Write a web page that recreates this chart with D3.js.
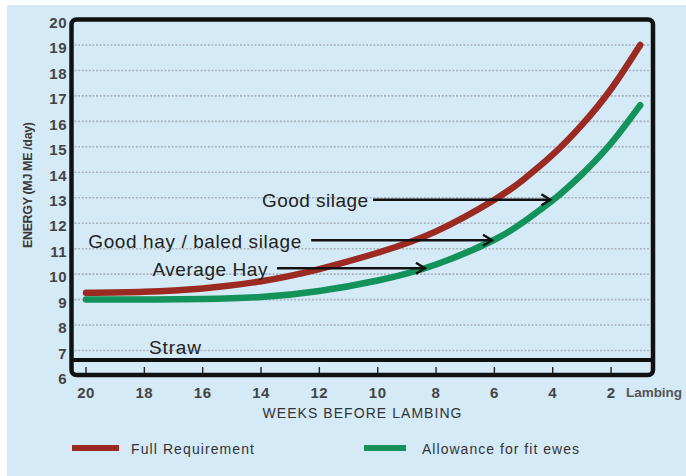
<!DOCTYPE html>
<html><head><meta charset="utf-8">
<script src="https://cdn.jsdelivr.net/npm/d3@7"></script>
<style>
html,body{margin:0;padding:0;background:#fff;}
svg{display:block;font-family:"Liberation Sans",Arial,Helvetica,sans-serif;}
</style></head>
<body>
<svg id="chart" width="686" height="476"></svg>
<script>
// ---- data ----
const weeks        = [20, 18, 16, 14, 12, 10, 8, 6, 5, 4, 3, 2, 1];
const fullReq      = [9.27, 9.31, 9.44, 9.72, 10.2, 10.84, 11.68, 12.92, 13.72, 14.69, 15.86, 17.27, 19.0];
const fitEwes      = [9.0, 9.0, 9.02, 9.1, 9.34, 9.75, 10.38, 11.35, 12.05, 12.9, 13.92, 15.14, 16.64];
const xTicks       = [20, 18, 16, 14, 12, 10, 8, 6, 4, 2];
const yTicks       = [6, 7, 8, 9, 10, 11, 12, 13, 14, 15, 16, 17, 18, 19, 20];
const gridValues   = [7, 8, 9, 10, 11, 12, 13, 14, 15, 16, 17, 18, 19];
const feedLabels   = ["Good silage", "Good hay / baled silage", "Average Hay"];
const feedLevels   = [12.92, 11.33, 10.23];   // MJ ME/day at arrow
const feedLabelEnd = [10.33, 12.62, 13.78];   // week where the label ends
const feedArrowFrom= [10.16, 12.28, 13.45];   // week where arrow starts
const feedArrowTo  = [4.08, 6.08, 8.38];      // week of arrow tip
const strawLevel   = 6.63;
const strawLabelAt = 17.84;
const seriesNames  = ["Full Requirement", "Allowance for fit ewes"];

// ---- layout ----
const svg = d3.select("#chart");
const x = d3.scaleLinear().domain([20, 0]).range([86, 669.4]);
const y = d3.scaleLinear().domain([6, 20]).range([376, 19.5]);
const frameL = 71.5, frameR = 653;
const RED = "#9b2b22", GREEN = "#13925a", BG = "#d5eaf7";

svg.append("rect").attr("x",7).attr("y",5).attr("width",679).attr("height",471).attr("fill",BG);

// gridlines
svg.append("g").selectAll("line").data(gridValues).join("line")
  .attr("x1", frameL+3).attr("x2", frameR-3)
  .attr("y1", d=>y(d)).attr("y2", d=>y(d))
  .attr("stroke","#a8b3bb").attr("stroke-width",1.6).attr("stroke-dasharray","2,1.6");

// y tick labels
svg.append("g").selectAll("text").data(yTicks).join("text")
  .attr("x", 67).attr("y", d=>y(d)+3).attr("dy","0.35em")
  .attr("text-anchor","end").attr("font-size",15).attr("font-weight","bold")
  .attr("letter-spacing",0.5).attr("fill","#444").text(d=>d);

// x axis ticks (inside bottom strip)
svg.append("g").selectAll("line").data(xTicks).join("line")
  .attr("x1", d=>x(d)).attr("x2", d=>x(d))
  .attr("y1", 367).attr("y2", 375)
  .attr("stroke","#222").attr("stroke-width",1.4);

svg.append("g").selectAll("text").data(xTicks).join("text")
  .attr("x", d=>x(d)).attr("y", 398)
  .attr("text-anchor","middle").attr("font-size",15).attr("font-weight","bold")
  .attr("letter-spacing",0.5).attr("fill","#444").text(d=>d);

svg.append("text").attr("x",626).attr("y",397).attr("font-size",13.5).attr("font-weight","bold")
  .attr("fill","#555").attr("textLength",56).text("Lambing");

svg.append("text").attr("x",362).attr("y",418).attr("text-anchor","middle")
  .attr("font-size",14).attr("fill","#333").attr("textLength",199).text("WEEKS BEFORE LAMBING");

svg.append("text").attr("transform","translate(32,185) rotate(-90)")
  .attr("text-anchor","middle").attr("font-size",12.5).attr("font-weight","bold")
  .attr("fill","#3a3a3a").attr("textLength",126).text("ENERGY  (MJ ME /day)");

// straw line
svg.append("line").attr("x1",frameL).attr("x2",frameR)
  .attr("y1",y(strawLevel)).attr("y2",y(strawLevel))
  .attr("stroke","#111").attr("stroke-width",4);
svg.append("text").attr("x",x(strawLabelAt)).attr("y",y(strawLevel)-13).attr("dy","0.35em")
  .attr("font-size",19).attr("fill","#222").attr("textLength",52).text("Straw");

// frame
svg.append("rect").attr("x",frameL).attr("y",y(20)).attr("width",frameR-frameL).attr("height",y(6)-y(20)-1)
  .attr("rx",5).attr("fill","none").attr("stroke","#111").attr("stroke-width",4.5);

// curves
const line = d3.line().x((d,i)=>x(weeks[i])).y(d=>y(d)).curve(d3.curveNatural);
svg.append("path").attr("d", line(fitEwes)).attr("fill","none").attr("stroke",GREEN)
  .attr("stroke-width",6.5).attr("stroke-linecap","round");
svg.append("path").attr("d", line(fullReq)).attr("fill","none").attr("stroke",RED)
  .attr("stroke-width",6.5).attr("stroke-linecap","round");

// feed annotations
const labelWidths = [106, 213, 115];
feedLabels.forEach((lab,i)=>{
  const yy = y(feedLevels[i]);
  svg.append("text").attr("x", x(feedLabelEnd[i])).attr("y", yy+1).attr("dy","0.35em")
    .attr("text-anchor","end").attr("font-size",19).attr("fill","#222")
    .attr("textLength",labelWidths[i]).text(lab);
  const x0 = x(feedArrowFrom[i]), x1 = x(feedArrowTo[i]);
  svg.append("line").attr("x1",x0).attr("x2",x1-1).attr("y1",yy).attr("y2",yy)
    .attr("stroke","#111").attr("stroke-width",2.6);
  svg.append("path").attr("d",`M${x1-9},${yy-5.5} L${x1},${yy} L${x1-9},${yy+5.5}`)
    .attr("fill","none").attr("stroke","#111").attr("stroke-width",2.4)
    .attr("stroke-linejoin","miter");
});

// legend
const legX = [72, 364], legW = [47, 42], legTextX = [131, 422], legTextW = [123, 157];
[RED, GREEN].forEach((c,i)=>{
  svg.append("line").attr("x1",legX[i]).attr("x2",legX[i]+legW[i]).attr("y1",448).attr("y2",448)
    .attr("stroke",c).attr("stroke-width",6);
  svg.append("text").attr("x",legTextX[i]).attr("y",449).attr("dy","0.35em")
    .attr("font-size",14).attr("fill","#333").attr("textLength",legTextW[i]).text(seriesNames[i]);
});
</script>
</body></html>
